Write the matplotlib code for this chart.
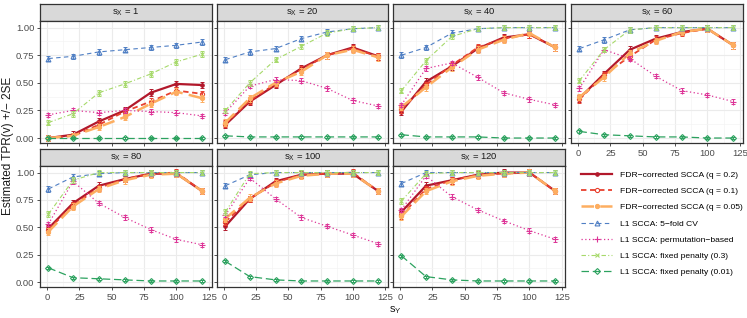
import numpy as np
import matplotlib
matplotlib.use('Agg')
from matplotlib import pyplot as plt
from matplotlib.lines import Line2D

# x positions (s_Y) and panel values (s_X)
s_y = [1, 20, 40, 60, 80, 100, 120]
s_x = [1, 20, 40, 60, 80, 100, 120]

series_labels = [
    'FDR\u2212corrected SCCA (q = 0.2)',
    'FDR\u2212corrected SCCA (q = 0.1)',
    'FDR\u2212corrected SCCA (q = 0.05)',
    'L1 SCCA: 5\u2212fold CV',
    'L1 SCCA: permutation\u2212based',
    'L1 SCCA: fixed penalty (0.3)',
    'L1 SCCA: fixed penalty (0.01)',
]

# estimated TPR per panel (s_X), per series, over s_Y
fdr_02 = {
    1: [0.00, 0.03, 0.15, 0.25, 0.41, 0.49, 0.48],
    20: [0.12, 0.33, 0.48, 0.63, 0.75, 0.82, 0.74],
    40: [0.24, 0.51, 0.65, 0.81, 0.91, 0.94, 0.82],
    60: [0.36, 0.58, 0.80, 0.90, 0.96, 0.99, 0.84],
    80: [0.49, 0.72, 0.88, 0.94, 0.99, 0.99, 0.83],
    100: [0.51, 0.76, 0.92, 0.98, 0.99, 0.99, 0.83],
    120: [0.64, 0.88, 0.93, 0.98, 1.00, 1.00, 0.83],
}
fdr_01 = {
    1: [0.00, 0.02, 0.12, 0.24, 0.33, 0.43, 0.40],
    20: [0.13, 0.34, 0.49, 0.62, 0.75, 0.81, 0.74],
    40: [0.26, 0.48, 0.66, 0.82, 0.90, 0.94, 0.82],
    60: [0.35, 0.57, 0.74, 0.89, 0.95, 0.99, 0.84],
    80: [0.48, 0.70, 0.86, 0.94, 0.99, 1.00, 0.83],
    100: [0.55, 0.76, 0.91, 0.98, 0.99, 1.00, 0.83],
    120: [0.61, 0.85, 0.93, 0.98, 0.99, 1.00, 0.83],
}
fdr_005 = {
    1: [0.00, 0.02, 0.10, 0.19, 0.31, 0.42, 0.36],
    20: [0.14, 0.36, 0.50, 0.60, 0.75, 0.80, 0.73],
    40: [0.28, 0.46, 0.64, 0.80, 0.89, 0.95, 0.82],
    60: [0.37, 0.55, 0.77, 0.88, 0.96, 0.99, 0.84],
    80: [0.46, 0.69, 0.85, 0.93, 0.98, 0.99, 0.83],
    100: [0.58, 0.77, 0.90, 0.97, 0.99, 0.99, 0.83],
    120: [0.60, 0.83, 0.92, 0.97, 0.99, 1.00, 0.83],
}
cv5 = {
    1: [0.72, 0.74, 0.78, 0.80, 0.82, 0.84, 0.87],
    20: [0.71, 0.78, 0.81, 0.90, 0.96, 0.99, 1.00],
    40: [0.75, 0.82, 0.95, 0.99, 1.00, 1.00, 1.00],
    60: [0.81, 0.89, 0.98, 1.00, 1.00, 1.00, 1.00],
    80: [0.85, 0.96, 0.99, 1.00, 1.00, 1.00, 1.00],
    100: [0.88, 0.98, 1.00, 1.00, 1.00, 1.00, 1.00],
    120: [0.90, 1.00, 1.00, 1.00, 1.00, 1.00, 1.00],
}
perm = {
    1: [0.21, 0.25, 0.23, 0.25, 0.24, 0.23, 0.20],
    20: [0.23, 0.47, 0.53, 0.52, 0.45, 0.34, 0.29],
    40: [0.30, 0.63, 0.68, 0.55, 0.41, 0.35, 0.30],
    60: [0.45, 0.80, 0.72, 0.56, 0.43, 0.39, 0.33],
    80: [0.53, 0.92, 0.72, 0.59, 0.48, 0.39, 0.34],
    100: [0.61, 0.95, 0.76, 0.59, 0.51, 0.43, 0.35],
    120: [0.66, 0.97, 0.78, 0.66, 0.56, 0.47, 0.39],
}
fix_03 = {
    1: [0.14, 0.22, 0.41, 0.49, 0.58, 0.69, 0.76],
    20: [0.25, 0.50, 0.71, 0.83, 0.95, 0.99, 1.00],
    40: [0.43, 0.70, 0.92, 0.99, 1.00, 1.00, 1.00],
    60: [0.52, 0.80, 0.98, 1.00, 1.00, 1.00, 1.00],
    80: [0.62, 0.93, 1.00, 1.00, 1.00, 1.00, 1.00],
    100: [0.64, 0.99, 1.00, 1.00, 1.00, 1.00, 1.00],
    120: [0.74, 0.99, 1.00, 1.00, 1.00, 1.00, 1.00],
}
fix_001 = {
    1: [0.00, 0.00, 0.00, 0.00, 0.00, 0.00, 0.00],
    20: [0.02, 0.01, 0.01, 0.01, 0.01, 0.01, 0.01],
    40: [0.03, 0.01, 0.01, 0.01, 0.00, 0.00, 0.00],
    60: [0.06, 0.03, 0.02, 0.01, 0.01, 0.00, 0.00],
    80: [0.13, 0.04, 0.03, 0.02, 0.01, 0.01, 0.01],
    100: [0.19, 0.05, 0.02, 0.01, 0.01, 0.01, 0.01],
    120: [0.24, 0.05, 0.02, 0.01, 0.01, 0.01, 0.01],
}
# rough 2SE half-widths
err_2se = [0.03, 0.03, 0.03, 0.025, 0.02, 0.025, 0.01]

all_series = [fdr_02, fdr_01, fdr_005, cv5, perm, fix_03, fix_001]

styles = [
    dict(color='#B2182B', ls='-', lw=1.6, marker='o', ms=2.5, mfc='#B2182B'),
    dict(color='#E8402E', ls=(0, (3, 2)), lw=1.3, marker='o', ms=3, mfc='none'),
    dict(color='#FDAE61', ls=(0, (5, 2.5)), lw=1.8, marker='o', ms=3, mfc='#FDAE61'),
    dict(color='#4F7FC4', ls=(0, (4, 3)), lw=0.8, marker='^', ms=3.5, mfc='none'),
    dict(color='#DD3497', ls=(0, (1, 2)), lw=0.9, marker='+', ms=5, mfc='none'),
    dict(color='#A6D96A', ls=(0, (4, 2, 1, 2)), lw=0.8, marker='x', ms=3.5, mfc='none'),
    dict(color='#2CA25F', ls=(0, (6, 3)), lw=0.9, marker='D', ms=3, mfc='none'),
]

plt.rcParams['font.family'] = ['Liberation Sans', 'DejaVu Sans']

W, H = 747, 318
fig = plt.figure(figsize=(W / 100, H / 100), dpi=100)

cols = [(40, 212), (217, 388), (393, 565), (571, 743)]
rows = [((4, 21), (21, 143)), ((149, 166), (166, 287))]


def px_axes(x0, x1, y0, y1):
    return fig.add_axes([x0 / W, 1 - y1 / H, (x1 - x0) / W, (y1 - y0) / H])


for k, sx in enumerate(s_x):
    r, c = divmod(k, 4)
    (sy0, sy1), (py0, py1) = rows[r]
    x0, x1 = cols[c]

    strip = px_axes(x0, x1, sy0, sy1)
    strip.set_facecolor('#D9D9D9')
    strip.set_xticks([])
    strip.set_yticks([])
    for sp in strip.spines.values():
        sp.set_color('#333333')
        sp.set_linewidth(0.9)
    strip.text(0.5, 0.5, r'$\mathregular{s_X}$ = %d' % sx, ha='center', va='center',
               fontsize=6.8, color='#1A1A1A', transform=strip.transAxes)

    ax = px_axes(x0, x1, py0, py1)
    ax.set_xlim(-5.5, 127.5)
    ax.set_ylim(-0.045, 1.06)
    ax.set_xticks([0, 25, 50, 75, 100, 125])
    ax.set_xticks([12.5, 37.5, 62.5, 87.5, 112.5], minor=True)
    ax.set_yticks([0, 0.25, 0.5, 0.75, 1.0])
    ax.set_yticks([0.125, 0.375, 0.625, 0.875], minor=True)
    ax.grid(which='major', color='#EBEBEB', lw=0.8)
    ax.grid(which='minor', color='#F4F4F4', lw=0.5)
    ax.set_axisbelow(True)
    for sp in ax.spines.values():
        sp.set_color('#333333')
        sp.set_linewidth(0.9)
    ax.tick_params(which='major', length=2.5, width=0.6, color='#333333',
                   labelsize=6.8, labelcolor='#4D4D4D', pad=1.5)
    ax.tick_params(which='minor', length=0)

    if c == 0:
        ax.set_yticklabels(['0.00', '0.25', '0.50', '0.75', '1.00'])
    else:
        ax.set_yticklabels([])
    if r == 1 or c == 3:
        ax.set_xticklabels(['0', '25', '50', '75', '100', '125'])
    else:
        ax.set_xticklabels([])

    for data, st, e in zip(all_series, styles, err_2se):
        y = np.array(data[sx])
        ax.errorbar(s_y, y, yerr=e, fmt='none', ecolor=st['color'], elinewidth=0.7,
                    capsize=1.5, capthick=0.7)
        ax.plot(s_y, y, color=st['color'], ls=st['ls'], lw=st['lw'], marker=st['marker'],
                ms=st['ms'], mfc=st['mfc'], mec=st['color'], mew=0.8)

fig.text(8 / W, 1 - 146 / H, 'Estimated TPR(v) +/\u2212 2SE', rotation=90,
         ha='center', va='center', fontsize=8.5, color='#1A1A1A')
fig.text(395 / W, 1 - 310 / H, r'$\mathregular{s_Y}$', ha='center', va='center',
         fontsize=8, color='#1A1A1A')

handles = [Line2D([], [], color=st['color'], ls=st['ls'], lw=st['lw'], marker=st['marker'],
                  ms=st['ms'], mfc=st['mfc'], mec=st['color'], mew=0.8) for st in styles]
fig.legend(handles, series_labels, loc='upper left', bbox_to_anchor=(581 / W, 1 - 171 / H),
           frameon=False, fontsize=6.1, handlelength=3.7, handletextpad=0.85,
           labelspacing=0.98, borderaxespad=0, borderpad=0)

fig.savefig('out.png', dpi=100)
